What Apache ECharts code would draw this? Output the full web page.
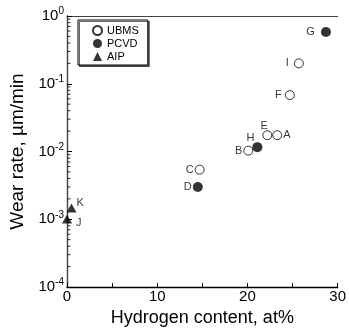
<!DOCTYPE html>
<html>
<head>
<meta charset="utf-8">
<script src="https://cdn.jsdelivr.net/npm/echarts@6/dist/echarts.min.js"></script>
<style>
  html, body { margin: 0; padding: 0; background: #fff; }
  #chart { width: 349px; height: 332px; }
</style>
</head>
<body>
<div id="chart"></div>
<script>
// UBMS (open circles)
const ubmsNames = ["A", "B", "C", "E", "F", "I"];
const ubmsHydrogen = [23.3, 20.1, 14.7, 22.2, 24.7, 25.7];
const ubmsWear = [0.0174, 0.0103, 0.0054, 0.0174, 0.068, 0.2];
// PCVD (filled circles)
const pcvdNames = ["D", "H", "G"];
const pcvdHydrogen = [14.5, 21.1, 28.7];
const pcvdWear = [0.003, 0.0116, 0.58];
// AIP (triangles)
const aipNames = ["J", "K"];
const aipHydrogen = [0, 0.5];
const aipWear = [0.00101, 0.00146];

// minor ticks of the log axis (2..9 x each decade)
const minorTickValues = [];
for (let e = -4; e < 0; e++) {
  for (let m = 2; m <= 9; m++) minorTickValues.push(m * Math.pow(10, e));
}

// point label placement
const labelPos = {
  A: "right", B: "left", C: "left", E: "top", F: "left", I: "left",
  D: "left", H: "top", G: "left", J: "right", K: "right"
};
const labelDist = { A: 1, B: 1, C: 1, D: 1, E: 0, F: 3, G: 6, H: 0, I: 5, J: 4, K: 0 };
const labelOffset = { E: [-3, 1], H: [-7, 1], J: [0, 4], K: [0, -5] };

function toPoints(xs, ys, names) {
  return xs.map((x, i) => ({
    value: [x, ys[i]],
    name: names[i],
    label: {
      position: labelPos[names[i]],
      distance: labelDist[names[i]],
      offset: labelOffset[names[i]] || [0, 0]
    }
  }));
}

const chart = echarts.init(document.getElementById("chart"), null, { renderer: "canvas" });
const font = "Liberation Sans, Arial, sans-serif";

const pointLabel = {
  show: true,
  formatter: p => p.name,
  color: "#000",
  fontFamily: font,
  fontSize: 11
};

chart.setOption({
  animation: false,
  backgroundColor: "#fff",
  grid: { left: 67, right: 11, top: 16, bottom: 39 },
  legend: {
    left: 78,
    top: 20,
    orient: "vertical",
    itemWidth: 9,
    itemHeight: 9,
    itemGap: 2,
    padding: [5, 9, 3, 14],
    borderColor: "#000",
    borderWidth: 1,
    shadowColor: "rgba(0,0,0,0.6)",
    shadowOffsetX: 1.5,
    shadowOffsetY: 1.5,
    shadowBlur: 0,
    backgroundColor: "#fff",
    textStyle: { fontFamily: font, fontSize: 11, color: "#000" },
    data: ["UBMS", "PCVD", "AIP"]
  },
  xAxis: [
    {
      type: "value",
      min: 0,
      max: 30,
      interval: 5,
      name: "Hydrogen content, at%",
      nameLocation: "middle",
      nameGap: 22,
      nameTextStyle: { fontFamily: font, fontSize: 18, color: "#000" },
      axisLine: { lineStyle: { color: "#000", width: 1.3 } },
      axisTick: { inside: true, length: 4, lineStyle: { color: "#000" } },
      axisLabel: {
        fontFamily: font, fontSize: 15, color: "#000", margin: 2,
        formatter: v => (v % 10 === 0 ? String(v) : "")
      },
      splitLine: { show: false }
    },
    {
      type: "value",
      position: "top",
      min: 0,
      max: 30,
      axisLine: { show: true, lineStyle: { color: "#444", width: 1 } },
      axisTick: { show: false },
      axisLabel: { show: false },
      splitLine: { show: false }
    }
  ],
  yAxis: [
    {
      type: "log",
      logBase: 10,
      min: 0.0001,
      max: 1,
      name: "Wear rate, \u00b5m/min",
      nameLocation: "middle",
      nameGap: 34,
      nameTextStyle: { fontFamily: font, fontSize: 19, color: "#000" },
      axisLine: { show: true, lineStyle: { color: "#000", width: 1.3 } },
      axisTick: { inside: true, length: 5, lineStyle: { color: "#000" } },
      axisLabel: {
        margin: 3,
        formatter: v => "{b|10}{s|" + Math.round(Math.log10(v)) + "}",
        rich: {
          b: { fontFamily: font, fontSize: 15, color: "#000" },
          s: { fontFamily: font, fontSize: 10, color: "#000", padding: [0, 0, 9, 0] }
        }
      },
      splitLine: { show: false }
    },
    {
      type: "log",
      logBase: 10,
      min: 0.0001,
      max: 1,
      position: "right",
      axisLine: { show: true, lineStyle: { color: "#444", width: 1 } },
      axisTick: { show: false },
      axisLabel: { show: false },
      splitLine: { show: false }
    }
  ],
  series: [
    {
      // minor ticks drawn as thin rects on the y axis
      type: "scatter",
      silent: true,
      symbol: "rect",
      symbolSize: [3, 1],
      symbolOffset: [2, 0],
      clip: false,
      itemStyle: { color: "#000" },
      data: minorTickValues.map(v => [0, v]),
      z: 1
    },
    {
      name: "UBMS",
      type: "scatter",
      symbol: "circle",
      symbolSize: 9,
      clip: false,
      itemStyle: { color: "#fff", borderColor: "#000", borderWidth: 1 },
      label: pointLabel,
      data: toPoints(ubmsHydrogen, ubmsWear, ubmsNames)
    },
    {
      name: "PCVD",
      type: "scatter",
      symbol: "circle",
      symbolSize: 10,
      clip: false,
      itemStyle: { color: "#000" },
      label: pointLabel,
      data: toPoints(pcvdHydrogen, pcvdWear, pcvdNames)
    },
    {
      name: "AIP",
      type: "scatter",
      symbol: "triangle",
      symbolSize: [10, 9],
      clip: false,
      itemStyle: { color: "#000" },
      label: pointLabel,
      data: toPoints(aipHydrogen, aipWear, aipNames)
    }
  ]
});

window.addEventListener("resize", () => chart.resize());
</script>
</body>
</html>
